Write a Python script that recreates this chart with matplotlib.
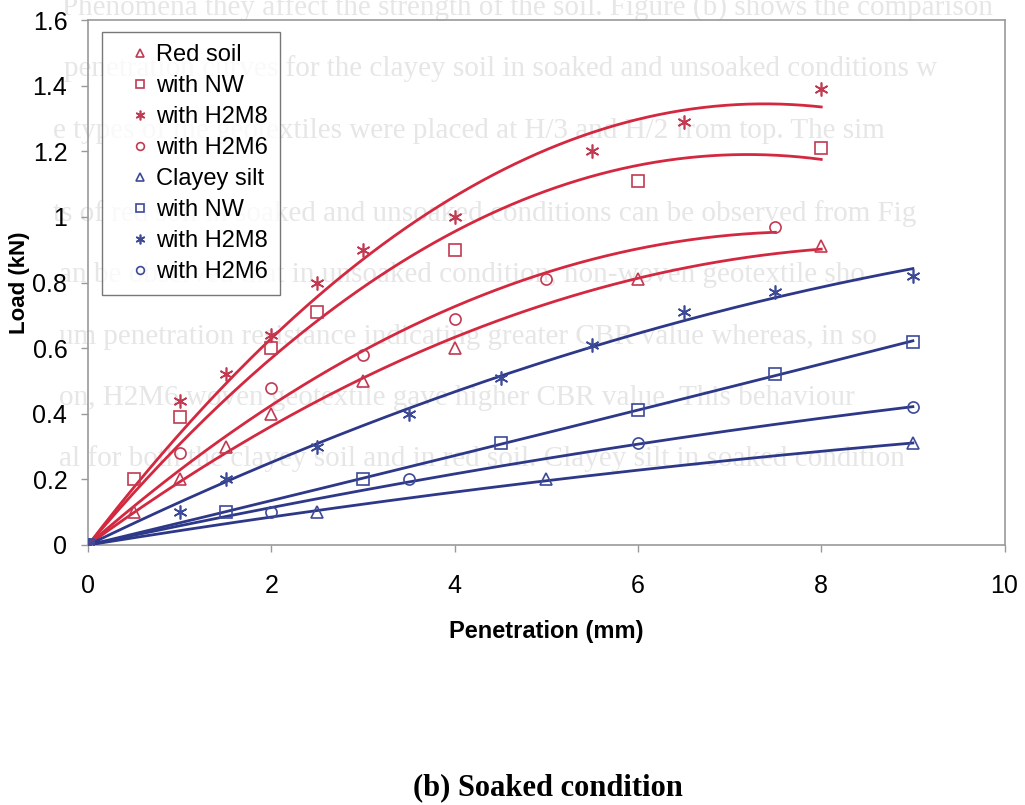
import numpy as np
import matplotlib
matplotlib.use("Agg")
import matplotlib.pyplot as plt

# Data (soaked condition)
red_soil_x = [0, 0.5, 1, 1.5, 2, 3, 4, 6, 8]
red_soil_y = [0, 0.1, 0.2, 0.3, 0.4, 0.5, 0.6, 0.81, 0.91]
red_nw_x = [0, 0.5, 1, 2, 2.5, 4, 6, 8]
red_nw_y = [0, 0.2, 0.39, 0.6, 0.71, 0.9, 1.11, 1.21]
red_h2m8_x = [0, 1, 1.5, 2, 2.5, 3, 4, 5.5, 6.5, 8]
red_h2m8_y = [0, 0.44, 0.52, 0.64, 0.8, 0.9, 1.0, 1.2, 1.29, 1.39]
red_h2m6_x = [0, 1, 2, 3, 4, 5, 7.5]
red_h2m6_y = [0, 0.28, 0.48, 0.58, 0.69, 0.81, 0.97]

clay_x = [0, 2.5, 5, 9]
clay_y = [0, 0.1, 0.2, 0.31]
clay_nw_x = [0, 1.5, 3, 4.5, 6, 7.5, 9]
clay_nw_y = [0, 0.1, 0.2, 0.31, 0.41, 0.52, 0.62]
clay_h2m8_x = [0, 1, 1.5, 2.5, 3.5, 4.5, 5.5, 6.5, 7.5, 9]
clay_h2m8_y = [0, 0.1, 0.2, 0.3, 0.4, 0.51, 0.61, 0.71, 0.77, 0.82]
clay_h2m6_x = [0, 2, 3.5, 6, 9]
clay_h2m6_y = [0, 0.1, 0.2, 0.31, 0.42]

labels = ["Red soil", "with NW", "with H2M8", "with H2M6",
          "Clayey silt", "with NW", "with H2M8", "with H2M6"]

RED = "#d3283f"
RED_EDGE = "#c23a52"
BLUE = "#2d3888"
BLUE_EDGE = "#3c4a98"
STAR = (6, 2, 0)

series = [
    (red_soil_x, red_soil_y, "^", RED, RED_EDGE),
    (red_nw_x, red_nw_y, "s", RED, RED_EDGE),
    (red_h2m8_x, red_h2m8_y, STAR, RED, RED_EDGE),
    (red_h2m6_x, red_h2m6_y, "o", RED, RED_EDGE),
    (clay_x, clay_y, "^", BLUE, BLUE_EDGE),
    (clay_nw_x, clay_nw_y, "s", BLUE, BLUE_EDGE),
    (clay_h2m8_x, clay_h2m8_y, STAR, BLUE, BLUE_EDGE),
    (clay_h2m6_x, clay_h2m6_y, "o", BLUE, BLUE_EDGE),
]

# faint text bleeding through from the back of the scanned page
bleed_lines = [
    (0.060, 0.990, "Phenomena they affect the strength of the soil. Figure (b) shows the comparison"),
    (0.062, 0.915, "penetration curves for the clayey soil in soaked and unsoaked conditions w"),
    (0.052, 0.838, "e types of the geotextiles were placed at H/3 and H/2 from top. The sim"),
    (0.052, 0.735, "ts of red soil in soaked and unsoaked conditions can be observed from Fig"),
    (0.058, 0.658, "an be observed that in unsoaked condition, non-woven geotextile sho"),
    (0.058, 0.581, "um penetration resistance indicating greater CBR value whereas, in so"),
    (0.058, 0.506, "on, H2M6 woven geotextile gave higher CBR value. This behaviour"),
    (0.058, 0.431, "al for both the clayey soil and in red soil. Clayey silt in soaked condition"),
]


def fit_curve(x, y, order=2):
    # polynomial trend line forced through the origin
    x = np.asarray(x, float)
    y = np.asarray(y, float)
    A = np.column_stack([x ** k for k in range(1, order + 1)])
    coef, *_ = np.linalg.lstsq(A, y, rcond=None)
    xs = np.linspace(0, x.max(), 200)
    ys = sum(c * xs ** (k + 1) for k, c in enumerate(coef))
    return xs, ys


plt.rcParams["font.family"] = ["Liberation Sans", "DejaVu Sans"]

fig = plt.figure(figsize=(10.25, 8.05), dpi=100)
fig.patch.set_facecolor("white")
ax = fig.add_axes([0.086, 0.323, 0.894, 0.652])
ax.set_facecolor("none")

for xx, yy, txt in bleed_lines:
    fig.text(xx, yy, txt, fontsize=21, color="#e6e6e6", family="Liberation Serif",
             ha="left", va="center", zorder=-5)

handles = []
for (x, y, m, c, ec), lab in zip(series, labels):
    xs, ys = fit_curve(x, y)
    ax.plot(xs, ys, color=c, lw=2.0, zorder=3)
    ms = 10 if m == STAR else 8
    h, = ax.plot(x, y, linestyle="none", marker=m, markersize=ms,
                 markerfacecolor="none", markeredgecolor=ec, markeredgewidth=1.2,
                 zorder=4, label=lab)
    handles.append(h)

ax.set_xlim(0, 10)
ax.set_ylim(0, 1.6)
ax.set_xticks([0, 2, 4, 6, 8, 10])
ax.set_yticks([0, 0.2, 0.4, 0.6, 0.8, 1.0, 1.2, 1.4, 1.6])
ax.set_yticklabels(["0", "0.2", "0.4", "0.6", "0.8", "1", "1.2", "1.4", "1.6"])
ax.tick_params(direction="out", length=5, width=1, color="#999999",
               labelsize=18)
ax.tick_params(axis="x", pad=16)
ax.tick_params(axis="y", pad=10)
for s in ax.spines.values():
    s.set_color("#9a9a9a")
    s.set_linewidth(1.2)

ax.set_xlabel("Penetration (mm)", fontsize=17, fontweight="bold", labelpad=16)
ax.set_ylabel("Load (kN)", fontsize=16, fontweight="bold", labelpad=2)

leg = ax.legend(handles=handles, loc="upper left", bbox_to_anchor=(0.015, 0.977),
                borderaxespad=0, fontsize=17, frameon=True, fancybox=False,
                handlelength=2.2, handletextpad=-0.4, labelspacing=0.38,
                borderpad=0.5, markerscale=0.7)
leg.get_frame().set_edgecolor("#555555")
leg.get_frame().set_linewidth(1.0)
leg.set_zorder(6)

fig.text(0.535, 0.022, "(b) Soaked condition", fontsize=22, fontweight="bold",
         family="Liberation Serif", ha="center", va="center")

fig.savefig("out.png", dpi=100)
